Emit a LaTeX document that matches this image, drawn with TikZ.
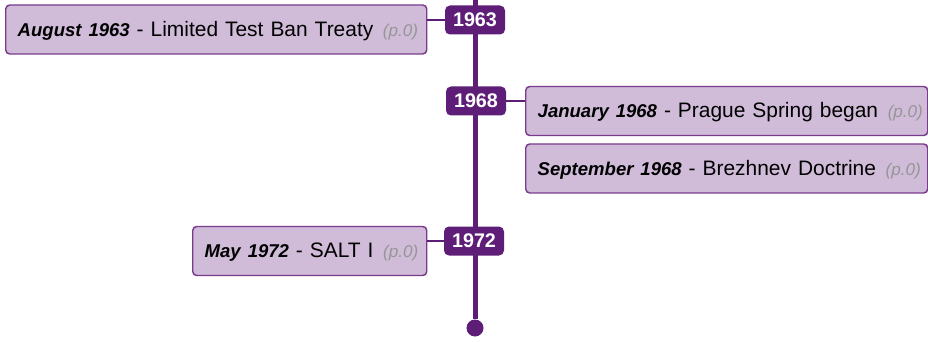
\documentclass[tikz,border=0pt]{standalone}
\usepackage{fontspec}
\setmainfont{Liberation Sans}
\definecolor{tlpurple}{RGB}{94,30,120}
\definecolor{evfill}{RGB}{208,187,217}
\definecolor{evline}{RGB}{122,58,142}
\definecolor{pgray}{RGB}{150,150,150}
\newcommand{\evtext}[2]{\mbox{{\fontsize{13.9}{16}\selectfont\bfseries\itshape #1} - #2\hspace{2pt} {\fontsize{12.8}{14}\selectfont\itshape\color{pgray}(p.0)}}}

\begin{document}
\begin{tikzpicture}[x=0.75pt,y=-0.75pt,
		yearbox/.style={fill=tlpurple, rounded corners=3.75pt, text=white, font=\fontsize{14.8}{16}\selectfont\bfseries, minimum width=45pt, minimum height=21.75pt, inner sep=0pt},
		eventbox/.style={draw=evline, line width=1.1pt, fill=evfill, rounded corners=3pt, minimum height=36.75pt, inner xsep=9pt, inner ysep=0pt, text height=10pt, text depth=0pt, align=left, anchor=west, font=\fontsize{15.7}{18}\selectfont},
		link/.style={draw=tlpurple, line width=1.5pt}]
		%%%%% START %%%%%
		
		\useasboundingbox (0,0) rectangle (928,342);
		
		\coordinate (top) at (475,0);
		\node[circle, fill=tlpurple, minimum size=12.75pt, inner sep=0pt] (end) at (475,328) {};
		\draw[tlpurple, line width=3.75pt] (top) -- (end);
		
		\node[yearbox] (y1963) at (475,20) {1963};
		\node[yearbox] (y1968) at (476,101) {1968};
		\node[yearbox] (y1972) at (474,241) {1972};
		
		\node[eventbox, text width=297.75pt] (ev1) at (5,29.5) {\evtext{August 1963}{Limited Test Ban Treaty}};
		\node[eventbox, text width=283.5pt] (ev2) at (525,111) {\evtext{January 1968}{Prague Spring began}};
		\node[eventbox, text width=283.5pt] (ev3) at (525,168.5) {\evtext{September 1968}{Brezhnev Doctrine}};
		\node[eventbox, text width=157.5pt] (ev4) at (192,251) {\evtext{May 1972}{SALT I}};
		
		\draw[link] (y1963.west) -- (y1963.west -| ev1.east);
		\draw[link] (y1968.east) -- (y1968.east -| ev2.west);
		\draw[link] (y1972.west) -- (y1972.west -| ev4.east);
		
		%%%%% END %%%%%
	\end{tikzpicture}
\end{document}
